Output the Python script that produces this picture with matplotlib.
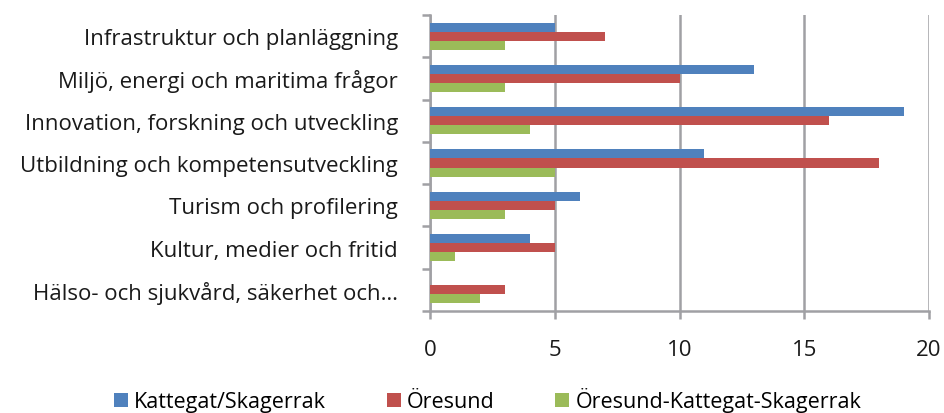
import matplotlib.pyplot as plt
import numpy as np

plt.rcParams['font.family'] = ['Open Sans', 'DejaVu Sans']

# data
categories = ['Infrastruktur och planläggning', 'Miljö, energi och maritima frågor',
              'Innovation, forskning och utveckling', 'Utbildning och kompetensutveckling',
              'Turism och profilering', 'Kultur, medier och fritid',
              'Hälso- och sjukvård, säkerhet och…']
kattegat = [5, 13, 19, 11, 6, 4, 0]
oresund = [7, 10, 16, 18, 5, 5, 3]
oks = [3, 3, 4, 5, 3, 1, 2]
series_names = ['Kattegat/Skagerrak', 'Öresund', 'Öresund-Kattegat-Skagerrak']
colors = ['#4F81BD', '#C0504D', '#9BBB59']

fig = plt.figure(figsize=(9.45, 4.14), dpi=100)
ax = fig.add_axes([430 / 945, 1 - 312 / 414, 499 / 945, 296 / 414])

y = np.arange(len(categories))
h = 0.215
for i, (vals, name, c) in enumerate(zip([kattegat, oresund, oks], series_names, colors)):
    ax.barh(y + (i - 1) * h, vals, height=h, color=c, label=name, zorder=3)

grid_c = '#A0A0A4'
ax.set_xlim(0, 20)
ax.set_ylim(len(categories) - 0.5, -0.5)
ax.set_xticks([0, 5, 10, 15, 20])
ax.xaxis.grid(True, color=grid_c, linewidth=1.8, zorder=0)
ax.set_yticks(y)
ax.set_yticklabels(categories)
ax.set_yticks(np.arange(len(categories) + 1) - 0.5, minor=True)
ax.tick_params(axis='y', which='major', length=0, pad=23, labelsize=16, labelcolor='#1a1a1a')
ax.tick_params(axis='y', which='minor', length=6, width=1.8, color=grid_c)
ax.tick_params(axis='x', length=6, width=1.8, color=grid_c, labelsize=16, pad=14, labelcolor='#1a1a1a')
for s in ['top', 'right']:
    ax.spines[s].set_visible(False)
for s in ['left', 'bottom']:
    ax.spines[s].set_color(grid_c)
    ax.spines[s].set_linewidth(1.8)

fig.legend(loc='lower center', bbox_to_anchor=(0.516, -0.045), ncol=3, frameon=False,
           fontsize=15.5, handlelength=0.65, handleheight=0.65, handletextpad=0.3, columnspacing=2.8)

plt.savefig('out.png', dpi=100)
